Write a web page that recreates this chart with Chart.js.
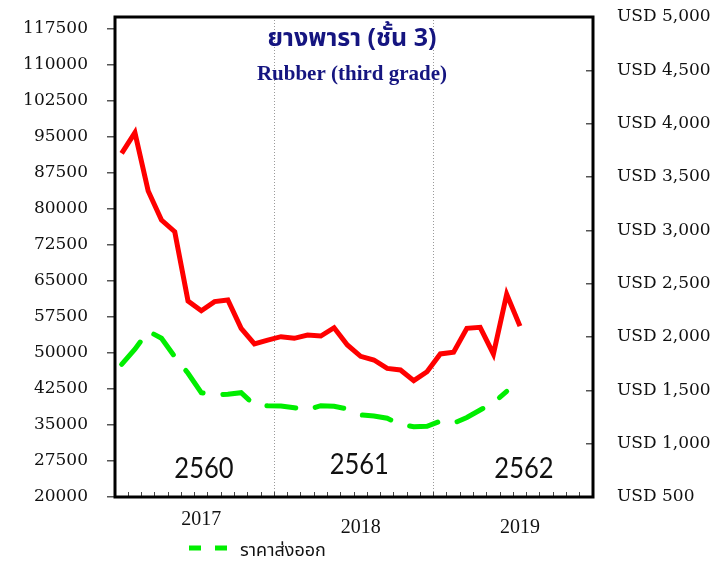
<!DOCTYPE html>
<html>
<head>
<meta charset="utf-8">
<script src="https://cdn.jsdelivr.net/npm/chart.js@4.4.1/dist/chart.umd.min.js"></script>
<style>
  html, body { margin: 0; padding: 0; background: #fff; }
</style>
</head>
<body>
<canvas id="rubberChart" width="727" height="566"></canvas>
<script>
// ข้อมูลรายเดือน ม.ค. 2017 - ธ.ค. 2019
const months = [
  'Jan 2017', 'Feb 2017', 'Mar 2017', 'Apr 2017', 'May 2017', 'Jun 2017',
  'Jul 2017', 'Aug 2017', 'Sep 2017', 'Oct 2017', 'Nov 2017', 'Dec 2017',
  'Jan 2018', 'Feb 2018', 'Mar 2018', 'Apr 2018', 'May 2018', 'Jun 2018',
  'Jul 2018', 'Aug 2018', 'Sep 2018', 'Oct 2018', 'Nov 2018', 'Dec 2018',
  'Jan 2019', 'Feb 2019', 'Mar 2019', 'Apr 2019', 'May 2019', 'Jun 2019',
  'Jul 2019', 'Aug 2019', 'Sep 2019', 'Oct 2019', 'Nov 2019', 'Dec 2019'
];

// ราคา (บาท/ตัน) - แกนซ้าย, เส้นแดง
const priceTHB = [
  91600, 95900, 83750, 77700, 75270, 60830, 58800, 60700, 61040, 55150, 51900, 52700,
  53400, 53060, 53750, 53540, 55270, 51670, 49300, 48540, 46800, 46460, 44230, 46100,
  49800, 50150, 55150, 55350, 49800, 62230, 55600
];

// ราคาส่งออก (USD/ตัน) - แกนขวา, เส้นเขียวประ
const exportUSD = [
  1744, 1885, 2056, 1988, 1816, 1660, 1478, 1456, 1463, 1478, 1362, 1356,
  1353, 1337, 1316, 1356, 1350, 1325, 1269, 1260, 1238, 1181, 1159, 1163,
  1212, 1191, 1245, 1316, 1384, 1490
];

const leftTicks = [20000, 27500, 35000, 42500, 50000, 57500, 65000, 72500,
  80000, 87500, 95000, 102500, 110000, 117500];
const rightTicks = [500, 1000, 1500, 2000, 2500, 3000, 3500, 4000, 4500, 5000];

const yearTickIndex = [6, 18, 30];
const yearTickText = ['2017', '2018', '2019'];
const thaiYears = ['2560', '2561', '2562'];

const titleTH = 'ยางพารา (ชั้น 3)';
const titleEN = 'Rubber (third grade)';
const exportLabel = 'ราคาส่งออก';

const thaiFont = "'Noto Sans Thai', 'Loma', 'Garuda', 'Tlwg Typo', 'Noto Sans', sans-serif";

function noPad(s) {
  s.paddingTop = 0; s.paddingBottom = 0; s.paddingLeft = 0; s.paddingRight = 0;
}

const decorPlugin = {
  id: 'decor',
  afterDatasetsDraw(chart) {
    const { ctx, chartArea: a, scales } = chart;
    ctx.save();
    // กรอบกราฟ
    ctx.strokeStyle = '#000';
    ctx.lineWidth = 3;
    ctx.strokeRect(a.left, a.top, a.right - a.left, a.bottom - a.top);

    // ชื่อกราฟ
    const cx = (a.left + a.right) / 2 - 2;
    ctx.fillStyle = '#151580';
    ctx.textAlign = 'center';
    ctx.textBaseline = 'middle';
    ctx.font = "bold 25px " + thaiFont;
    ctx.fillText(titleTH, cx, 41);
    ctx.font = "bold 21px 'Liberation Serif', serif";
    ctx.fillText(titleEN, cx, 75);

    // ปี พ.ศ. ในกราฟ
    const at = [6.2, 17.9, 30.3];
    const level = [26000, 26800, 26000];
    ctx.fillStyle = '#111';
    ctx.font = "29px 'Lato', sans-serif";
    thaiYears.forEach((t, i) => {
      ctx.save();
      ctx.translate(scales.x.getPixelForValue(at[i]), scales.y.getPixelForValue(level[i]));
      ctx.scale(0.88, 1);
      ctx.fillText(t, 0, 0);
      ctx.restore();
    });
    ctx.restore();
  },
  afterDraw(chart) {
    const { ctx } = chart;
    const ds = chart.data.datasets[1];
    ctx.save();
    ctx.strokeStyle = ds.borderColor;
    ctx.lineWidth = 5;
    ctx.setLineDash([12, 14]);
    ctx.beginPath();
    ctx.moveTo(189, 548);
    ctx.lineTo(229, 548);
    ctx.stroke();
    ctx.setLineDash([]);
    ctx.fillStyle = '#111';
    ctx.textAlign = 'left';
    ctx.textBaseline = 'middle';
    ctx.font = "18px " + thaiFont;
    ctx.fillText(exportLabel, 240, 552);
    ctx.restore();
  }
};

const rubberCtx = document.getElementById('rubberChart').getContext('2d');
const rubberChart = new Chart(rubberCtx, {
  type: 'line',
  data: {
    labels: months,
    datasets: [
      {
        label: 'ราคา (บาท/ตัน)',
        data: priceTHB,
        yAxisID: 'y',
        borderColor: '#ff0000',
        borderWidth: 5,
        pointRadius: 0,
        tension: 0,
        fill: false
      },
      {
        label: exportLabel,
        data: exportUSD,
        yAxisID: 'y2',
        borderColor: '#00ee00',
        borderWidth: 5,
        borderDash: [29, 20],
        borderCapStyle: 'round',
        pointRadius: 0,
        tension: 0,
        fill: false
      }
    ]
  },
  options: {
    responsive: false,
    animation: false,
    layout: { padding: { top: 17, left: 0, right: 0, bottom: 0 } },
    plugins: {
      legend: { display: false },
      tooltip: { enabled: false }
    },
    scales: {
      x: {
        offset: true,
        border: { display: false, dash: [1, 2] },
        grid: {
          offset: true,
          color: c => (c.index === 12 || c.index === 24) ? '#9a9a9a' : 'transparent',
          tickColor: '#444',
          tickLength: -5,
          lineWidth: 1
        },
        ticks: {
          autoSkip: false,
          maxRotation: 0,
          padding: 24,
          color: '#111',
          font: { family: "'Liberation Serif', serif", size: 20, lineHeight: 0.4 },
          callback: function (value, index) {
            const k = yearTickIndex.indexOf(index);
            if (k < 0) return '';
            return k === 0 ? yearTickText[k] : ['', yearTickText[k]];
          }
        },
        afterFit: s => { s.height = 69; noPad(s); }
      },
      y: {
        position: 'left',
        min: 20000,
        max: 120000,
        border: { display: false },
        grid: { drawOnChartArea: false, tickLength: 8, tickColor: '#555', lineWidth: 1.5 },
        ticks: {
          padding: 19,
          color: '#111',
          font: { family: "'DejaVu Serif', serif", size: 17 },
          callback: v => String(v)
        },
        afterBuildTicks: s => { s.ticks = leftTicks.map(v => ({ value: v })); },
        afterFit: s => { s.width = 115; noPad(s); }
      },
      y2: {
        position: 'right',
        min: 500,
        max: 5000,
        border: { display: false },
        grid: { drawOnChartArea: false, tickLength: -7, tickColor: '#555', lineWidth: 1.5 },
        ticks: {
          padding: 31,
          color: '#111',
          font: { family: "'DejaVu Serif', serif", size: 17 },
          callback: v => 'USD ' + v.toLocaleString('en-US')
        },
        afterBuildTicks: s => { s.ticks = rightTicks.map(v => ({ value: v })); },
        afterFit: s => { s.width = 134; noPad(s); }
      }
    }
  },
  plugins: [decorPlugin]
});
</script>
</body>
</html>
